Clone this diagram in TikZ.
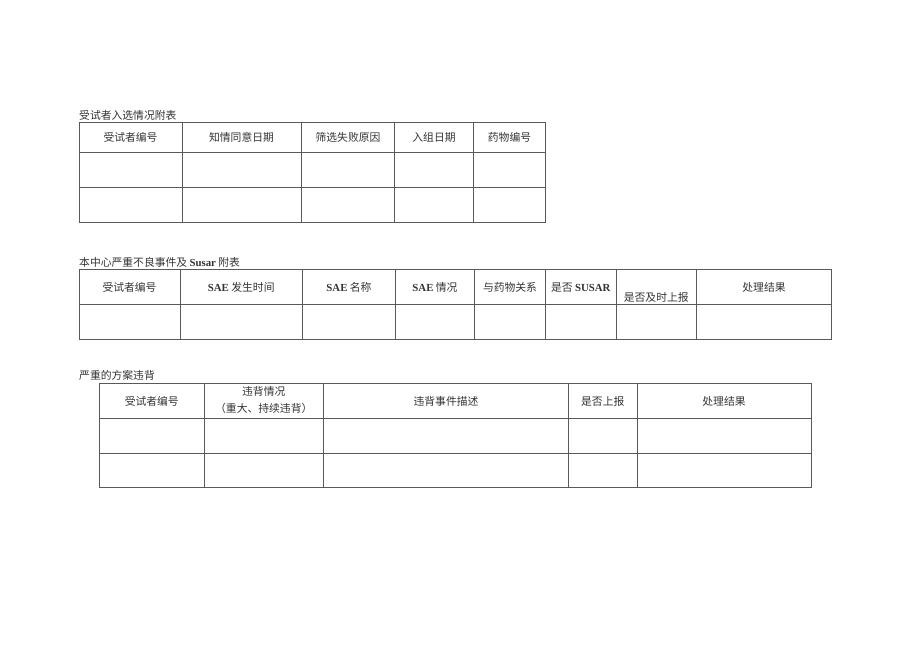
\documentclass[tikz,border=0pt]{standalone}
\usepackage{fontspec}
\newfontfamily\cjk{Noto Sans CJK SC}
\newfontfamily\lat{Liberation Serif}
\newcommand{\bl}[1]{{\lat\bfseries #1}}
\begin{document}
\begin{tikzpicture}[x=1pt,y=-1pt,
  grid/.style={draw=black!65,line width=0.8pt},
  txt/.style={font=\cjk\fontsize{10.8}{13}\selectfont,text=black!80,inner sep=0pt},
  ttl/.style={txt,anchor=west}]
\useasboundingbox (0,0) rectangle (920,651);
% ---------- table 1 ----------
\node[ttl] (t1) at (79,115) {受试者入选情况附表};
\draw[grid] (79,122.5) rectangle (545,222);
\foreach \yy in {152.5,187.5} \draw[grid] (79,\yy) -- (545,\yy);
\foreach \xx in {182,301.5,394.5,473.5} \draw[grid] (\xx,122.5) -- (\xx,222);
\node[txt] (a1) at (130.5,137.5) {受试者编号};
\node[txt] (a2) at (241.5,137.5) {知情同意日期};
\node[txt] (a3) at (348,137.5) {筛选失败原因};
\node[txt] (a4) at (434,137.5) {入组日期};
\node[txt] (a5) at (509.5,137.5) {药物编号};
% ---------- table 2 ----------
\node[ttl] (t2) at (79,262) {本中心严重不良事件及 \bl{Susar} 附表};
\draw[grid] (79,269.5) rectangle (831.5,339.5);
\draw[grid] (79,304.5) -- (831.5,304.5);
\foreach \xx in {180,302.5,395.5,474.5,545.5,616,696.5} \draw[grid] (\xx,269.5) -- (\xx,339.5);
\node[txt] (b1) at (129.5,287.5) {受试者编号};
\node[txt] (b2) at (241.25,287.5) {\bl{SAE} 发生时间};
\node[txt] (b3) at (349,287.5) {\bl{SAE} 名称};
\node[txt] (b4) at (435,287.5) {\bl{SAE} 情况};
\node[txt] (b5) at (510,287.5) {与药物关系};
\node[txt] (b6) at (580.75,287.5) {是否 \bl{SUSAR}};
\node[txt] (b7) at (656.25,297.5) {是否及时上报};
\node[txt] (b8) at (764,287.5) {处理结果};
% ---------- table 3 ----------
\node[ttl] (t3) at (79,375) {严重的方案违背};
\draw[grid] (99.5,383.5) rectangle (811,487.5);
\foreach \yy in {418.5,453} \draw[grid] (99.5,\yy) -- (811,\yy);
\foreach \xx in {204,323.5,568.5,637} \draw[grid] (\xx,383.5) -- (\xx,487.5);
\node[txt] (c1) at (151.75,401.5) {受试者编号};
\node[txt] (c2a) at (263.75,391) {违背情况};
\node[txt] (c2b) at (263.75,408) {（重大、持续违背）};
\node[txt] (c3) at (446,401.5) {违背事件描述};
\node[txt] (c4) at (602.75,401.5) {是否上报};
\node[txt] (c5) at (724,401.5) {处理结果};
\end{tikzpicture}
\end{document}
